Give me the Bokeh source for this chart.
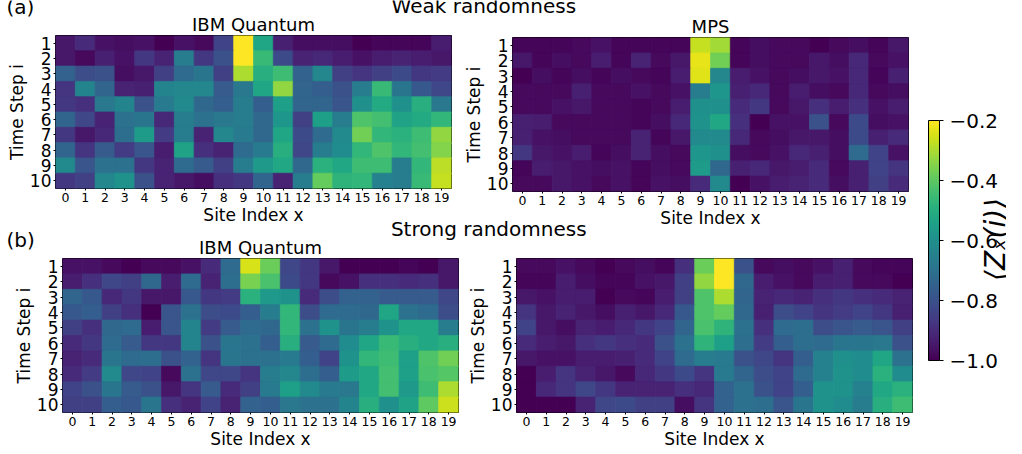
from bokeh.plotting import figure
from bokeh.models import (LinearColorMapper, FixedTicker, ColorBar, Label, Range1d, Column,
                          ColumnDataSource)
from bokeh.palettes import Viridis256
from bokeh.transform import linear_cmap
from bokeh.embed import file_html
from bokeh.resources import INLINE

sites = list(range(20))
steps = list(range(1, 11))

ibm_weak = [
 [-.95,-.90,-.96,-.97,-.96,-1.0,-.96,-.98,-.84,-.20,-.53,-.93,-.97,-.97,-.97,-1.0,-.99,-.99,-.99,-.94],
 [-.95,-.98,-.93,-.96,-.87,-.92,-.66,-.87,-.80,-.20,-.46,-.82,-.92,-.91,-.94,-.96,-.94,-.92,-.94,-.95],
 [-.75,-.81,-.80,-.97,-.95,-.85,-.72,-.69,-.85,-.30,-.50,-.45,-.75,-.63,-.85,-.88,-.85,-.82,-.87,-.86],
 [-.88,-.64,-.74,-.92,-.93,-.64,-.63,-.63,-.77,-.68,-.53,-.33,-.74,-.76,-.80,-.66,-.46,-.69,-.78,-.83],
 [-.87,-.89,-.68,-.64,-.80,-.67,-.62,-.73,-.76,-.66,-.76,-.55,-.74,-.74,-.79,-.60,-.51,-.60,-.50,-.68],
 [-.74,-.83,-.92,-.70,-.69,-.91,-.66,-.70,-.68,-.66,-.73,-.58,-.85,-.55,-.66,-.42,-.44,-.54,-.51,-.47],
 [-.87,-.95,-.91,-.71,-.56,-.86,-.66,-.92,-.63,-.67,-.73,-.53,-.82,-.72,-.62,-.37,-.47,-.49,-.45,-.33],
 [-.74,-.88,-.77,-.86,-.79,-.94,-.54,-.89,-.92,-.72,-.67,-.50,-.83,-.66,-.61,-.47,-.42,-.47,-.44,-.35],
 [-.62,-.79,-.70,-.70,-.87,-.92,-.72,-.77,-.85,-.66,-.57,-.52,-.73,-.49,-.52,-.45,-.45,-.66,-.47,-.28],
 [-.87,-.85,-.63,-.59,-.80,-.92,-.95,-.97,-.89,-.87,-.74,-.92,-.66,-.39,-.48,-.47,-.65,-.66,-.46,-.27],
]
mps_weak = [
 [-.99,-.99,-.99,-.98,-.96,-.99,-.99,-.99,-.99,-.27,-.31,-.99,-.97,-.98,-.98,-1.0,-.98,-.97,-.99,-.95],
 [-.95,-.99,-.97,-.98,-.94,-.99,-.92,-.98,-.95,-.23,-.37,-.99,-.97,-.98,-.98,-.95,-.97,-.91,-.98,-.96],
 [-1.0,-.97,-.99,-.97,-.99,-.97,-.98,-.99,-.94,-.24,-.63,-.94,-.96,-.98,-.97,-.95,-.96,-.91,-.99,-.93],
 [-.98,-.98,-.98,-.93,-.98,-.98,-.96,-.98,-.96,-.66,-.58,-.93,-.91,-.98,-.94,-.97,-.98,-.91,-.98,-.97],
 [-.98,-.98,-.96,-.95,-.98,-.98,-.99,-.98,-.94,-.60,-.60,-.90,-.87,-.98,-.95,-.89,-.94,-.89,-.96,-.94],
 [-.93,-.94,-.98,-.98,-.98,-.98,-.99,-.97,-.91,-.59,-.52,-.89,-1.0,-.96,-.96,-.80,-.98,-.82,-.97,-.96],
 [-.93,-.96,-.97,-.98,-.98,-.98,-.92,-.99,-.95,-.62,-.62,-.91,-.98,-.97,-.95,-.95,-.97,-.82,-.93,-.90],
 [-.87,-.95,-.96,-.94,-.99,-.97,-.92,-.97,-.98,-.58,-.60,-.97,-.98,-.96,-.91,-.93,-.97,-.72,-.84,-.96],
 [-.99,-.94,-.95,-.96,-.97,-.96,-.99,-.97,-.98,-.56,-.73,-.93,-.91,-.95,-.94,-.90,-.98,-.93,-.84,-.88],
 [-.98,-.98,-.95,-.96,-.98,-.96,-.99,-.96,-.97,-.90,-.62,-1.0,-.96,-.94,-.92,-.90,-.97,-.93,-.85,-.90],
]
ibm_strong = [
 [-.96,-.96,-.98,-1.0,-.98,-.98,-.96,-.90,-.72,-.25,-.38,-.83,-.87,-.95,-1.0,-1.0,-1.0,-.99,-1.0,-.95],
 [-.94,-.89,-.83,-.85,-.73,-.94,-.72,-.92,-.71,-.36,-.43,-.82,-.87,-.98,-.96,-.89,-.89,-.90,-.89,-.95],
 [-.74,-.78,-.91,-.87,-.95,-.95,-.78,-.87,-.86,-.49,-.57,-.59,-.90,-.81,-.75,-.75,-.77,-.77,-.77,-.83],
 [-.78,-.76,-.85,-.89,-1.0,-.79,-.70,-.81,-.82,-.76,-.66,-.47,-.81,-.72,-.72,-.73,-.53,-.70,-.72,-.81],
 [-.85,-.89,-.73,-.72,-.94,-.79,-.64,-.86,-.77,-.72,-.73,-.47,-.70,-.59,-.69,-.66,-.59,-.52,-.52,-.66],
 [-.90,-.87,-.72,-.77,-.87,-.87,-.64,-.80,-.69,-.70,-.76,-.50,-.77,-.72,-.61,-.53,-.46,-.50,-.52,-.50],
 [-.92,-.90,-.69,-.72,-.71,-.80,-.75,-.88,-.69,-.70,-.70,-.67,-.76,-.84,-.59,-.47,-.45,-.55,-.42,-.37],
 [-.90,-.86,-.62,-.83,-.84,-.98,-.70,-.83,-.83,-.88,-.66,-.63,-.71,-.76,-.56,-.52,-.44,-.55,-.43,-.41],
 [-.84,-.80,-.69,-.77,-.80,-.95,-.88,-.77,-.90,-.85,-.67,-.55,-.62,-.67,-.68,-.52,-.44,-.57,-.45,-.30],
 [-.85,-.85,-.76,-.78,-.69,-.89,-.92,-.84,-.92,-.75,-.76,-.68,-.70,-.70,-.64,-.50,-.60,-.54,-.40,-.26],
]
mps_strong = [
 [-.98,-.98,-.96,-.98,-1.0,-.98,-.97,-.99,-.89,-.38,-.20,-.80,-.98,-.97,-.98,-.96,-.93,-.98,-.99,-.99],
 [-.99,-.99,-.94,-.97,-.99,-.99,-.96,-.95,-.85,-.33,-.20,-.73,-.94,-.96,-.98,-.94,-.93,-.98,-.98,-1.0],
 [-.95,-.96,-.94,-.94,-1.0,-.98,-.99,-.94,-.85,-.42,-.30,-.74,-.92,-.91,-.92,-.89,-.87,-.89,-.90,-.92],
 [-.88,-.95,-.92,-.95,-.97,-.93,-.95,-.91,-.78,-.42,-.39,-.73,-.93,-.81,-.84,-.88,-.86,-.84,-.87,-.93],
 [-.84,-.95,-.97,-.92,-.94,-.91,-.87,-.84,-.74,-.43,-.48,-.70,-.89,-.72,-.71,-.81,-.79,-.77,-.79,-.85],
 [-.90,-.94,-.95,-.89,-.87,-.89,-.90,-.80,-.70,-.48,-.55,-.71,-.86,-.76,-.71,-.72,-.69,-.69,-.68,-.80],
 [-.95,-.96,-.96,-.94,-.94,-.93,-.90,-.84,-.72,-.66,-.67,-.80,-.83,-.88,-.76,-.65,-.60,-.61,-.53,-.70],
 [-1.0,-.94,-.88,-.92,-.95,-.98,-.91,-.87,-.82,-.88,-.67,-.74,-.81,-.84,-.72,-.65,-.59,-.61,-.49,-.61],
 [-1.0,-.91,-.88,-.83,-.87,-.92,-.92,-.92,-.89,-.91,-.75,-.70,-.80,-.84,-.76,-.59,-.59,-.65,-.52,-.49],
 [-1.0,-1.0,-1.0,-.92,-.83,-.82,-.85,-.85,-.97,-.88,-.75,-.70,-.71,-.79,-.69,-.59,-.61,-.66,-.50,-.45],
]
cbar_ticks = [-1.0, -0.8, -0.6, -0.4, -0.2]

FONT = "DejaVu Sans"
V_LOW, V_HIGH = -1.0, -0.2
BL, BT, BR, BB = 60, 30, 16, 50   # figure borders round each heatmap frame


def place(child, left, top):
    return Column(children=[child], styles={"position": "absolute", "left": f"{left}px", "top": f"{top}px"})


def panel(grid, title, frame_left, frame_top, frame_w, frame_h):
    p = figure(frame_width=frame_w, frame_height=frame_h, output_backend="svg",
               toolbar_location=None, x_range=Range1d(-0.5, 19.5), y_range=Range1d(10.5, 0.5),
               min_border_left=BL, min_border_right=BR, min_border_top=BT, min_border_bottom=BB,
               title=title or None)
    p.border_fill_alpha = 0
    p.background_fill_alpha = 0
    xs, ys, vals = [], [], []
    for i, row in zip(steps, grid):
        for x, v in zip(sites, row):
            xs.append(x); ys.append(i); vals.append(v)
    src = ColumnDataSource(dict(x=xs, y=ys, v=vals))
    cmap = linear_cmap("v", Viridis256, V_LOW, V_HIGH)
    p.rect("x", "y", width=1, height=1, dilate=True, source=src,
           fill_color=cmap, line_color=cmap, line_width=0.7)
    p.grid.visible = False
    p.outline_line_color = "black"
    p.outline_line_width = 1
    p.xaxis.ticker = FixedTicker(ticks=sites)
    p.yaxis.ticker = FixedTicker(ticks=steps)
    p.xaxis.axis_label = "Site Index x"
    p.yaxis.axis_label = "Time Step i"
    for ax, fs in ((p.xaxis[0], "12.5px"), (p.yaxis[0], "17px")):
        ax.major_label_text_font = FONT
        ax.major_label_text_font_size = fs
        ax.major_label_text_color = "black"
        ax.axis_label_text_font = FONT
        ax.axis_label_text_font_style = "normal"
        ax.axis_label_text_font_size = "17px"
        ax.axis_label_text_color = "black"
        ax.major_tick_in = 0
        ax.major_tick_out = 2
        ax.minor_tick_out = 0
        ax.minor_tick_in = 0
        ax.major_label_standoff = 2
        ax.axis_line_color = None
        ax.major_tick_line_color = "black"
    p.xaxis[0].axis_label_standoff = 0
    p.yaxis[0].axis_label_standoff = 0
    if title:
        p.title.text_font = FONT
        p.title.text_font_style = "normal"
        p.title.text_font_size = "18px"
        p.title.text_color = "black"
        p.title.align = "center"
        p.title.standoff = 1
    return place(p, frame_left - BL, frame_top - BT)


p1 = panel(ibm_weak, "IBM Quantum", 55, 35, 396, 153)
p2 = panel(mps_weak, "MPS", 512, 37, 396, 154)
p3 = panel(ibm_strong, "IBM Quantum", 62, 258, 396, 154)
p4 = panel(mps_strong, "", 516, 258, 396, 154)

# Overlay holding the panel tags, the group headings and the colour bar
over = figure(width=1022, height=454, output_backend="svg", toolbar_location=None,
              x_range=Range1d(0, 1022), y_range=Range1d(454, 0),
              min_border_left=0, min_border_right=0, min_border_top=0, min_border_bottom=0,
              x_axis_type=None, y_axis_type=None)
over.border_fill_alpha = 0
over.background_fill_alpha = 0
over.outline_line_color = None
over.grid.visible = False


def text(x, y, s, size, align="left", angle=0.0, style="normal", baseline="alphabetic"):
    over.add_layout(Label(x=x, y=y, text=s, text_font=FONT, text_font_size=size,
                          text_align=align, text_baseline=baseline, text_color="black",
                          angle=angle, text_font_style=style))


text(6, 6, "(a)", "20px")
text(6, 239, "(b)", "20px")
text(491, 5, "Weak randomness", "20px", align="center")
text(496, 228, "Strong randomness", "20px", align="center")
text(1011, 239, "\u27e8Z\u2093(i)\u27e9", "28px", align="center", angle=1.5708, style="italic",
     baseline="middle")

mapper = LinearColorMapper(palette=Viridis256, low=V_LOW, high=V_HIGH)
cb = ColorBar(color_mapper=mapper, width=11, height=240, location=(928, 94),
              ticker=FixedTicker(ticks=cbar_ticks),
              major_label_overrides={t: f"\u2212{abs(t):.1f}" for t in cbar_ticks},
              major_label_text_font=FONT, major_label_text_font_size="20px",
              major_label_text_color="black", major_tick_in=0, major_tick_out=4,
              major_tick_line_color="black", minor_tick_line_color=None,
              bar_line_color="black", bar_line_width=1, padding=0, margin=0,
              label_standoff=6, background_fill_alpha=0, border_line_color=None)
over.add_layout(cb, "center")

root = Column(children=[p1, p2, p3, p4, place(over, 0, 0)], width=1006, height=430)
open("out.html", "w").write(file_html(root, INLINE))
